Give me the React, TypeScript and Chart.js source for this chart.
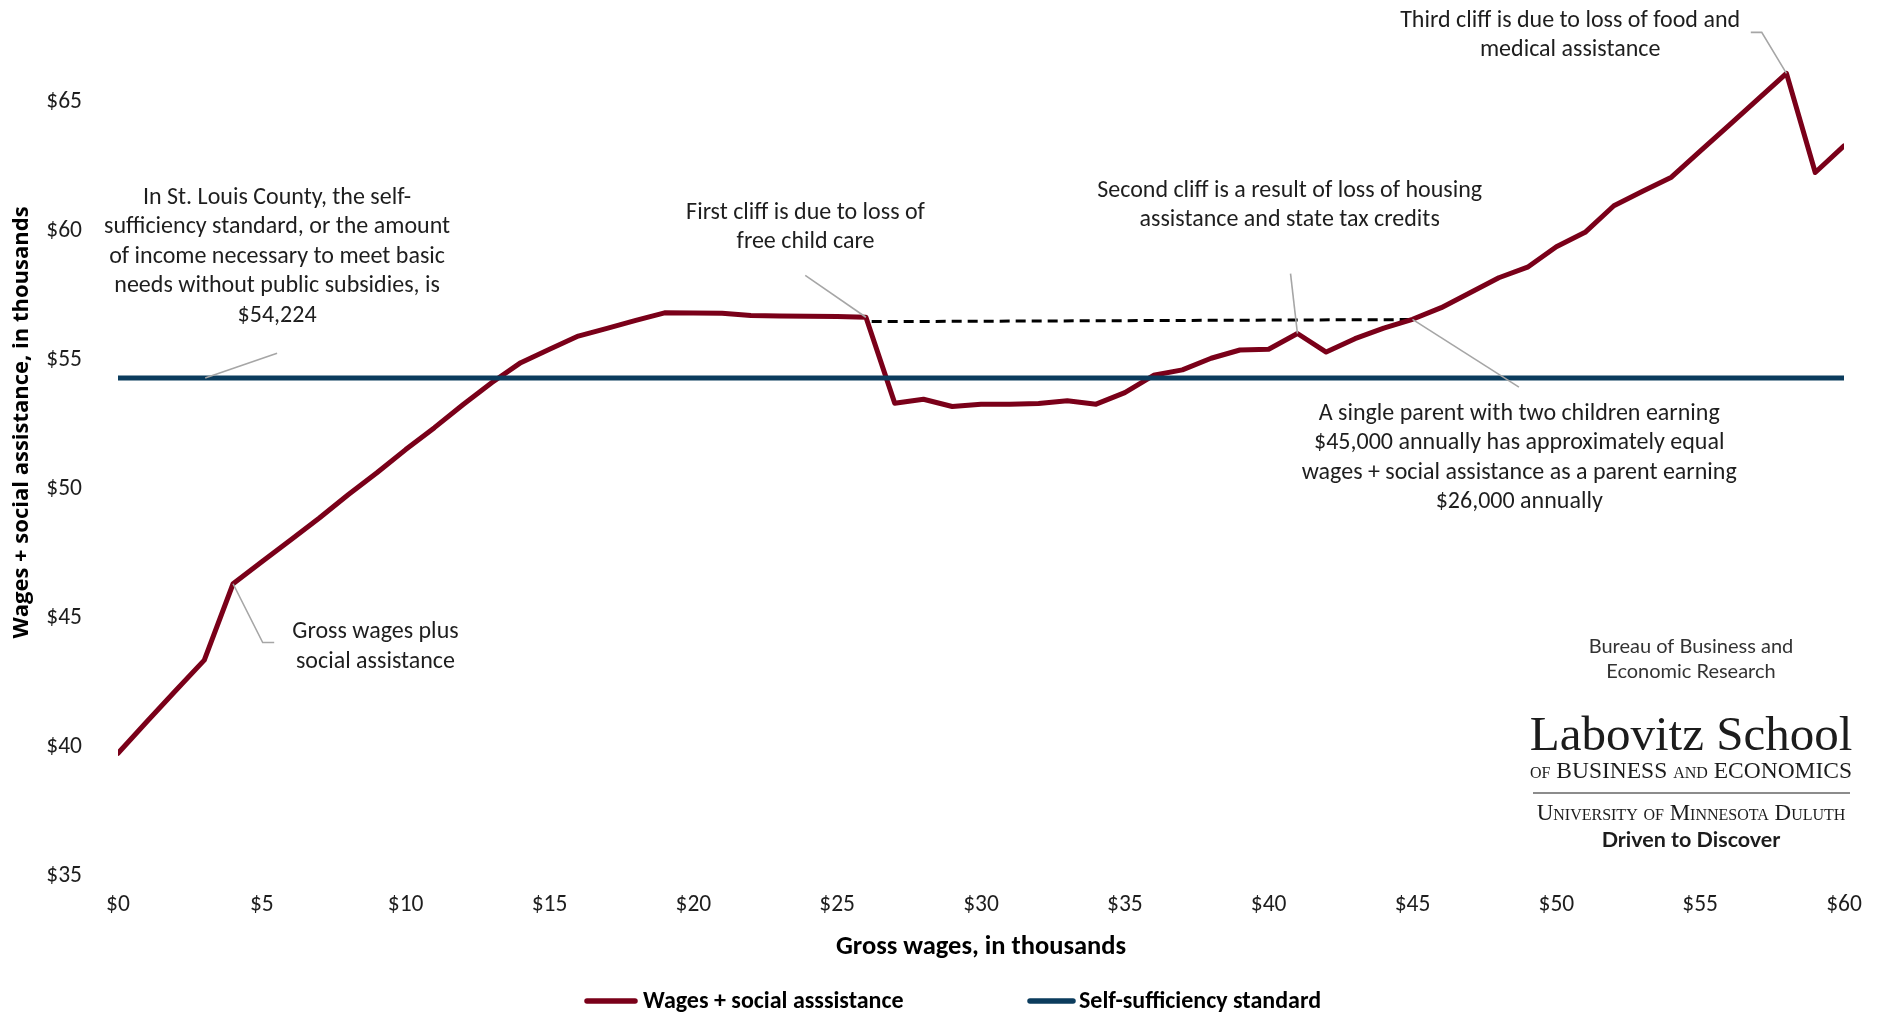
import React, { useEffect, useRef } from 'react';
import { Chart, registerables } from 'chart.js';

Chart.register(...registerables);

// ---------- data ----------
const grossWages = [
  0, 1, 2, 3, 4, 5, 6, 7, 8, 9, 10, 11, 12, 13, 14, 15, 16, 17, 18, 19, 20,
  21, 22, 23, 24, 25, 26, 27, 28, 29, 30, 31, 32, 33, 34, 35, 36, 37, 38, 39, 40,
  41, 42, 43, 44, 45, 46, 47, 48, 49, 50, 51, 52, 53, 54, 55, 56, 57, 58, 59, 60,
];
const wagesPlusAssistance = [
  39.68, 40.9, 42.1, 43.29, 46.25, 47.1, 47.95, 48.8, 49.7, 50.55, 51.45,
  52.3, 53.2, 54.05, 54.82, 55.34, 55.85, 56.15, 56.46, 56.75, 56.74,
  56.73, 56.65, 56.63, 56.62, 56.61, 56.58, 53.25, 53.4, 53.12, 53.21,
  53.21, 53.24, 53.34, 53.21, 53.66, 54.33, 54.54, 54.99, 55.31, 55.34,
  55.95, 55.23, 55.75, 56.16, 56.5, 56.95, 57.53, 58.11, 58.52, 59.31,
  59.87, 60.9, 61.46, 62.01, 63.02, 64.02, 65.02, 66.03, 62.19, 63.22,
];
const selfSufficiencyX = [0, 60];
const selfSufficiencyY = [54.224, 54.224];
const equalWagesX = [26.2, 45];
const equalWagesY = [56.41, 56.49];
const xTickValues = [0, 5, 10, 15, 20, 25, 30, 35, 40, 45, 50, 55, 60];
const yTickValues = [35, 40, 45, 50, 55, 60, 65];
const seriesLabels = ['Wages + social asssistance', 'Self-sufficiency standard'];

const annotationTexts = [
  [
    'In St. Louis County, the self-',
    'sufficiency standard, or the amount',
    'of income necessary to meet basic',
    'needs without public subsidies, is',
    '$54,224',
  ],
  ['Gross wages plus', 'social assistance'],
  ['First cliff is due to loss of', 'free child care'],
  ['Second cliff is a result of loss of housing', 'assistance and state tax credits'],
  [
    'A single parent with two children earning',
    '$45,000 annually has approximately equal',
    'wages + social assistance as a parent earning',
    '$26,000 annually',
  ],
  ['Third cliff is due to loss of food and', 'medical assistance'],
];
// anchors in data units (x = thousands of wages, y = thousands of income)
const annotationAnchors = [
  { x: 5.53, y: 61.29 },
  { x: 8.95, y: 44.46 },
  { x: 23.9, y: 60.72 },
  { x: 40.73, y: 61.56 },
  { x: 48.71, y: 52.93 },
  { x: 50.48, y: 68.16 },
];
const leaderLines = [
  [[3.03, 54.224], [5.53, 55.18]],
  [[4, 46.25], [5.03, 43.97], [5.43, 43.97]],
  [[23.89, 58.2], [26, 56.58]],
  [[40.76, 58.27], [41, 55.95]],
  [[45, 56.5], [48.7, 53.87]],
  [[58, 66.03], [57.14, 67.62], [56.76, 67.62]],
];

// ---------- style ----------
const RED = '#7a0019';
const BLUE = '#0b3c5d';
const TEXT = '#1e1e1e';
const OFF = 80; // canvas starts above the visible page (top of the axis is cropped, as in the source)
const CANVAS_W = 1885;
const CANVAS_H = 1014 + OFF;
const BODY_FONT = 'Carlito, Lato, "Noto Sans", sans-serif';
const ANN_SIZE = 24;
const ANN_LINE = 29.5;
const ANN_DY = 2.2;
const TICK_SIZE = 23.5;

const overlayPlugin = {
  id: 'overlay',
  afterDatasetsDraw(chart: any) {
    const { ctx, scales } = chart;
    const xs = scales.x;
    const ys = scales.y;
    ctx.save();
    // leader lines
    ctx.strokeStyle = '#a6a6a6';
    ctx.lineWidth = 1.6;
    leaderLines.forEach((pts) => {
      ctx.beginPath();
      pts.forEach(([lx, ly], i) => {
        const px = xs.getPixelForValue(lx);
        const py = ys.getPixelForValue(ly);
        if (i === 0) ctx.moveTo(px, py);
        else ctx.lineTo(px, py);
      });
      ctx.stroke();
    });
    // annotation texts
    ctx.fillStyle = TEXT;
    ctx.font = `${ANN_SIZE}px ${BODY_FONT}`;
    ctx.textAlign = 'center';
    ctx.textBaseline = 'middle';
    annotationTexts.forEach((lines, k) => {
      const a = annotationAnchors[k];
      const cx = xs.getPixelForValue(a.x);
      const cy = ys.getPixelForValue(a.y) + ANN_DY;
      lines.forEach((t, i) => ctx.fillText(t, cx, cy + i * ANN_LINE));
    });

    // legend
    const legendY = 1001 + OFF;
    const sampleStart = [587, 1030];
    const sampleEnd = [635, 1073];
    const textStart = [643, 1079];
    ctx.font = `bold 24px ${BODY_FONT}`;
    ctx.textAlign = 'left';
    chart.data.datasets.slice(0, 2).forEach((ds: any, i: number) => {
      ctx.strokeStyle = ds.borderColor;
      ctx.lineWidth = 5.5;
      ctx.lineCap = 'round';
      ctx.beginPath();
      ctx.moveTo(sampleStart[i], legendY);
      ctx.lineTo(sampleEnd[i], legendY);
      ctx.stroke();
      ctx.fillStyle = '#000';
      ctx.fillText(ds.label, textStart[i], legendY + 1);
    });

    // logo block
    const lx = 1691;
    ctx.textAlign = 'center';
    ctx.fillStyle = '#333';
    ctx.textBaseline = 'middle';
    ctx.font = `20px Lato, sans-serif`;
    ctx.fillText('Bureau of Business and', lx, 647 + OFF);
    ctx.fillText('Economic Research', lx, 672 + OFF);
    ctx.fillStyle = '#1c1c1c';
    ctx.textBaseline = 'alphabetic';
    ctx.font = `49px "Liberation Serif", "DejaVu Serif", serif`;
    ctx.fillText('Labovitz School', lx, 750 + OFF);
    ctx.font = `small-caps 23.5px "Liberation Serif", "DejaVu Serif", serif`;
    ctx.fillText('of BUSINESS and ECONOMICS', lx, 778 + OFF);
    ctx.font = `small-caps 23px "Liberation Serif", "DejaVu Serif", serif`;
    ctx.fillText('University of Minnesota Duluth', lx, 820 + OFF);
    ctx.font = `bold 21.5px Lato, sans-serif`;
    ctx.fillText('Driven to Discover', lx, 847 + OFF);
    ctx.strokeStyle = '#666';
    ctx.lineWidth = 1.5;
    ctx.lineCap = 'butt';
    ctx.beginPath();
    ctx.moveTo(1533, 793 + OFF);
    ctx.lineTo(1850, 793 + OFF);
    ctx.stroke();
    ctx.restore();
  },
};

export default function App() {
  const canvasRef = useRef<HTMLCanvasElement | null>(null);

  useEffect(() => {
    document.body.style.margin = '0';
    document.body.style.overflow = 'hidden';
    const canvas = canvasRef.current;
    if (!canvas) return;
    const chart = new Chart(canvas, {
      type: 'line',
      data: {
        datasets: [
          {
            label: seriesLabels[0],
            data: grossWages.map((x, i) => ({ x, y: wagesPlusAssistance[i] })),
            borderColor: RED,
            backgroundColor: RED,
            borderWidth: 5,
            borderCapStyle: 'round',
            borderJoinStyle: 'round',
            pointRadius: 0,
            tension: 0,
            order: 1,
          },
          {
            label: seriesLabels[1],
            data: selfSufficiencyX.map((x, i) => ({ x, y: selfSufficiencyY[i] })),
            borderColor: BLUE,
            backgroundColor: BLUE,
            borderWidth: 5,
            borderCapStyle: 'round',
            pointRadius: 0,
            order: 0,
          },
          {
            label: 'equal',
            data: equalWagesX.map((x, i) => ({ x, y: equalWagesY[i] })),
            borderColor: '#000',
            borderWidth: 3,
            borderDash: [10, 6],
            pointRadius: 0,
            order: 2,
          },
        ],
      },
      options: {
        animation: false,
        responsive: false,
        devicePixelRatio: 1,
        // chart top sits at page y = -29 (value 70), as in the cropped source
        layout: { padding: { top: OFF - 29, right: 41, left: 0, bottom: 0 } },
        plugins: { legend: { display: false }, tooltip: { enabled: false } },
        scales: {
          x: {
            type: 'linear',
            min: 0,
            max: 60,
            grid: { display: false, drawTicks: false },
            border: { display: false },
            afterBuildTicks: (s: any) => {
              s.ticks = xTickValues.map((v) => ({ value: v }));
            },
            afterFit: (s: any) => {
              s.height = 140;
            },
            ticks: {
              padding: 17,
              color: TEXT,
              font: { family: BODY_FONT, size: TICK_SIZE },
              maxRotation: 0,
              callback: (v: any) => '$' + v,
            },
            title: {
              display: true,
              text: 'Gross wages, in thousands',
              color: '#000',
              font: { family: BODY_FONT, size: 26.5, weight: 'bold' },
              padding: { top: 0, bottom: 50.6 },
            },
          },
          y: {
            type: 'linear',
            min: 35,
            max: 70,
            grid: { display: false, drawTicks: false },
            border: { display: false },
            afterBuildTicks: (s: any) => {
              s.ticks = yTickValues.map((v) => ({ value: v }));
            },
            afterFit: (s: any) => {
              s.width = 118;
            },
            ticks: {
              padding: 36,
              labelOffset: 2.5,
              color: TEXT,
              font: { family: BODY_FONT, size: TICK_SIZE },
              callback: (v: any) => '$' + v,
            },
            title: {
              display: true,
              text: 'Wages + social assistance, in thousands',
              color: '#000',
              font: { family: '"Open Sans", sans-serif', size: 22, weight: 'bold' },
              padding: { top: 9, bottom: 0 },
            },
          },
        },
      },
      plugins: [overlayPlugin],
    } as any);
    return () => chart.destroy();
  }, []);

  return (
    <div style={{ position: 'relative', width: CANVAS_W, height: 1014, overflow: 'hidden', background: '#fff' }}>
      <canvas
        ref={canvasRef}
        width={CANVAS_W}
        height={CANVAS_H}
        style={{ position: 'absolute', left: 0, top: -OFF, width: CANVAS_W, height: CANVAS_H }}
      />
    </div>
  );
}
